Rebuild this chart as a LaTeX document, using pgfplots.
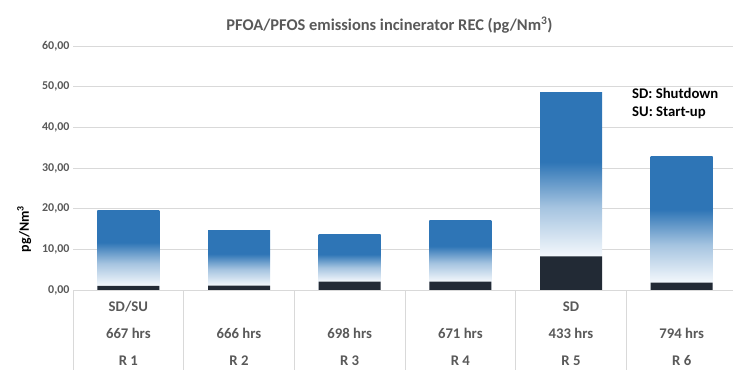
\documentclass[border=0pt]{standalone}
\usepackage{pgfplots}
\pgfplotsset{compat=1.18}
\usepackage{fontspec}
\setmainfont{Carlito}
\definecolor{barblue}{HTML}{2E75B6}
\definecolor{bardark}{HTML}{222A35}
\definecolor{barwhite}{HTML}{F4F8FC}
\definecolor{txtgray}{HTML}{595959}
\definecolor{gridgray}{HTML}{D9D9D9}
\newcommand\mkshade[4]{\pgfdeclareverticalshading{#1}{100bp}{color(0bp)=(barwhite); color(#2bp)=(barwhite); color(#3bp)=(barblue!40!barwhite); color(#4bp)=(barblue); color(100bp)=(barblue)}}
\mkshade{shA}{27.6}{41.8}{55.0}
\mkshade{shB}{28.6}{42.5}{55.4}
\mkshade{shC}{32.5}{45.2}{57.0}
\mkshade{shD}{30.9}{44.2}{56.4}
\mkshade{shE}{33.5}{46.0}{57.4}
\mkshade{shF}{27.7}{41.9}{55.1}
\begin{document}
\begin{tikzpicture}[x=1bp,y=1bp]
\path[use as bounding box] (0,0) rectangle (733,369);
\begin{axis}[
  at={(73bp,79bp)}, anchor=south west,
  scale only axis, width=660bp, height=244bp,
  xmin=-0.5, xmax=5.464, ymin=0, ymax=60,
  ybar, bar width=62bp,
  every axis plot post/.append style={bar shift=0pt, draw=none},
  ytick={0,10,...,60},
  xtick={0,1,2,3,4,5},
  xticklabels={{SD/SU\\667 hrs\\R 1},{\vphantom{SD/SU}\\666 hrs\\R 2},{\vphantom{SD/SU}\\698 hrs\\R 3},{\vphantom{SD/SU}\\671 hrs\\R 4},{\vphantom{SD/SU}SD\\433 hrs\\R 5},{\vphantom{SD/SU}\\794 hrs\\R 6}},
  xticklabel style={align=center, anchor=north, text=txtgray, font=\bfseries\fontsize{14.8}{27}\selectfont, yshift=-8bp},
  yticklabel style={text=txtgray, font=\bfseries\fontsize{12}{14}\selectfont},
  /pgf/number format/.cd, fixed, zerofill, precision=2, use comma, 1000 sep={}, assume math mode=true,
  /pgfplots/.cd,
  major tick length=0pt,
  axis line style={draw=none},
  ymajorgrids, grid style={gridgray, line width=0.8bp},
  clip=false,
  ylabel={pg/Nm\textsuperscript{3}},
  ylabel style={at={(axis description cs:-0.074,0.25)}, anchor=center, font=\bfseries\fontsize{14}{16}\selectfont, text=black},
  title={PFOA/PFOS emissions incinerator REC (pg/Nm\textsuperscript{3})},
  title style={at={(axis description cs:0.4795,1.062)}, anchor=center, font=\bfseries\fontsize{16.5}{19}\selectfont, text=txtgray},
]
% total (blue, gradient) bars
\addplot[shading=shA] coordinates {(0,19.5)};
\addplot[shading=shB] coordinates {(1,14.6)};
\addplot[shading=shC] coordinates {(2,13.7)};
\addplot[shading=shD] coordinates {(3,17.2)};
\addplot[shading=shE] coordinates {(4,48.6)};
\addplot[shading=shF] coordinates {(5,32.9)};
% dark bottom segment
\addplot[fill=bardark] coordinates {(0,1.0) (1,1.05) (2,2.05) (3,2.05) (4,8.3) (5,1.8)};
\draw[gridgray, line width=0.8bp] (axis cs:-0.5,0) -- (axis cs:5.464,0);
\pgfplotsinvokeforeach{-0.5,0.5,1.5,2.5,3.5,4.5}{
  \draw[gridgray, line width=0.8bp] (axis cs:#1,0) -- (axis cs:#1,-19.6);
}
\node[anchor=north west, align=left, font=\bfseries\fontsize{14.8}{18}\selectfont, inner sep=0pt] at (axis cs:4.551,49.7) {SD: Shutdown\\SU: Start-up};
\end{axis}
\end{tikzpicture}
\end{document}
